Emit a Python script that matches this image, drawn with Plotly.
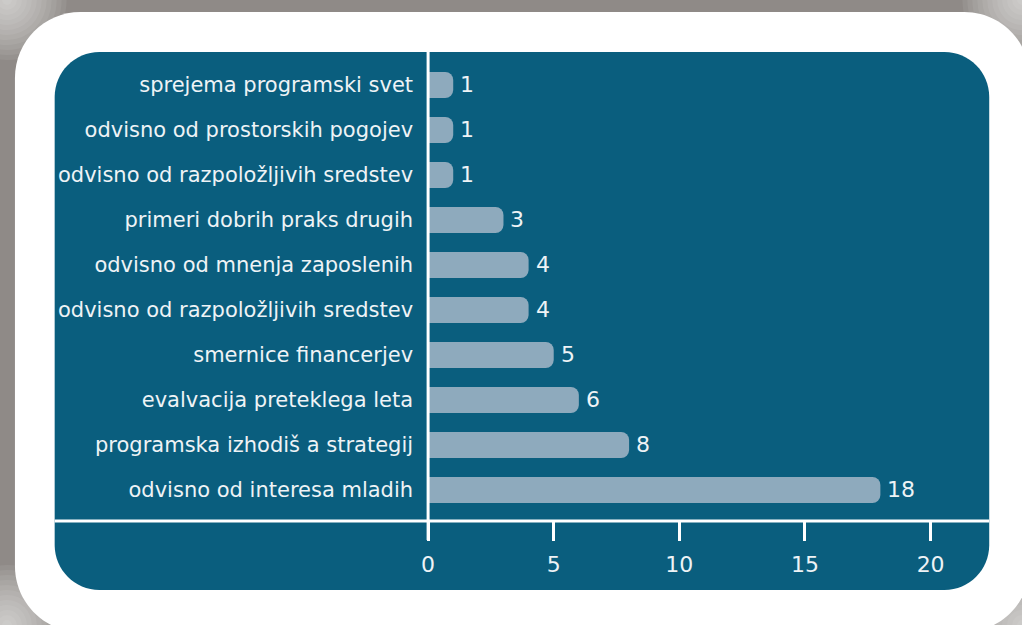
import plotly.graph_objects as go

# Data (top to bottom as shown)
categories = [
    "sprejema programski svet",
    "odvisno od prostorskih pogojev",
    "odvisno od razpoložljivih sredstev",
    "primeri dobrih praks drugih",
    "odvisno od mnenja zaposlenih",
    "odvisno od razpoložljivih sredstev",
    "smernice financerjev",
    "evalvacija preteklega leta",
    "programska izhodiš a strategij",
    "odvisno od interesa mladih",
]
values = [1, 1, 1, 3, 4, 4, 5, 6, 8, 18]
x_ticks = [0, 5, 10, 15, 20]

W, H = 1022, 625
TEAL = "#0a5e7e"
BAR = "#8eaabd"
TXT = "#eef3f6"
GRAY = "#8f8a87"
FONT = "DejaVu Sans"

n = len(categories)
ypos = [n - 1 - i for i in range(n)]


def px(x):
    return x / W


def py(y):
    return 1 - y / H


def rrect(x0, y0, x1, y1, r):
    k = 0.5523 * r
    pts = [
        f"M{px(x0 + r)},{py(y0)}",
        f"L{px(x1 - r)},{py(y0)}",
        f"C{px(x1 - r + k)},{py(y0)} {px(x1)},{py(y0 + r - k)} {px(x1)},{py(y0 + r)}",
        f"L{px(x1)},{py(y1 - r)}",
        f"C{px(x1)},{py(y1 - r + k)} {px(x1 - r + k)},{py(y1)} {px(x1 - r)},{py(y1)}",
        f"L{px(x0 + r)},{py(y1)}",
        f"C{px(x0 + r - k)},{py(y1)} {px(x0)},{py(y1 - r + k)} {px(x0)},{py(y1 - r)}",
        f"L{px(x0)},{py(y0 + r)}",
        f"C{px(x0)},{py(y0 + r - k)} {px(x0 + r - k)},{py(y0)} {px(x0 + r)},{py(y0)}",
        "Z",
    ]
    return " ".join(pts)


shapes = []
# soft light glow in the frame corners (many faint layers for a smooth fade)
for cx, cy in [(0, 0), (W, 0), (0, H), (W, H)]:
    for r in range(60, 4, -5):
        shapes.append(dict(type="circle", xref="paper", yref="paper",
                           x0=px(cx - r), x1=px(cx + r), y0=py(cy + r), y1=py(cy - r),
                           fillcolor="rgba(255,255,255,0.07)", line=dict(width=0),
                           layer="below"))
shapes += [
    dict(type="path", path=rrect(8, 12, 1030, 632, 66), xref="paper", yref="paper",
         fillcolor="white", line=dict(width=0), layer="below"),
    dict(type="path", path=rrect(48, 52, 989, 590, 45), xref="paper", yref="paper",
         fillcolor=TEAL, line=dict(width=0), layer="below"),
    dict(type="line", x0=px(48), x1=px(989), y0=py(521), y1=py(521), xref="paper", yref="paper",
         line=dict(color="white", width=3), layer="above"),
    dict(type="line", x0=px(424), x1=px(424), y0=py(52), y1=py(540), xref="paper", yref="paper",
         line=dict(color="white", width=3), layer="above"),
]

fig = go.Figure(
    go.Bar(
        x=values,
        y=ypos,
        orientation="h",
        width=0.58,
        marker=dict(color=BAR, line=dict(width=0)),
        hoverinfo="skip",
    )
)

annotations = [
    dict(x=v, y=y, xref="x", yref="y", text=str(v), showarrow=False,
         xanchor="left", yanchor="middle", xshift=5,
         font=dict(color=TXT, size=22, family=FONT))
    for v, y in zip(values, ypos)
]

x0_px, x1_px = 424, 989
ppu = 25.3
fig.update_layout(
    width=W,
    height=H,
    margin=dict(l=0, r=0, t=0, b=0),
    paper_bgcolor=GRAY,
    plot_bgcolor="rgba(0,0,0,0)",
    barcornerradius=8,
    showlegend=False,
    shapes=shapes,
    annotations=annotations,
    font=dict(family=FONT, color=TXT, size=20),
    xaxis=dict(
        domain=[px(x0_px), px(x1_px)],
        range=[0, (x1_px - x0_px) / ppu],
        tickvals=x_ticks,
        ticktext=[str(t) for t in x_ticks],
        ticks="outside",
        ticklen=19,
        tickwidth=3,
        tickcolor="white",
        showgrid=False,
        zeroline=False,
        showline=False,
        tickfont=dict(size=22, color=TXT, family=FONT),
        ticklabelstandoff=5,
        anchor="y",
    ),
    yaxis=dict(
        domain=[py(521), py(52)],
        range=[-31 / 45, 9 + 33 / 45],
        tickvals=ypos,
        ticktext=categories,
        ticks="",
        showgrid=False,
        zeroline=False,
        showline=False,
        tickfont=dict(size=21, color=TXT, family=FONT),
        ticklabelstandoff=14,
        anchor="x",
    ),
)

fig.write_html(
    "out.html",
    config={"displayModeBar": False},
    post_script="document.body.style.margin='0';document.body.style.overflow='hidden';",
)
